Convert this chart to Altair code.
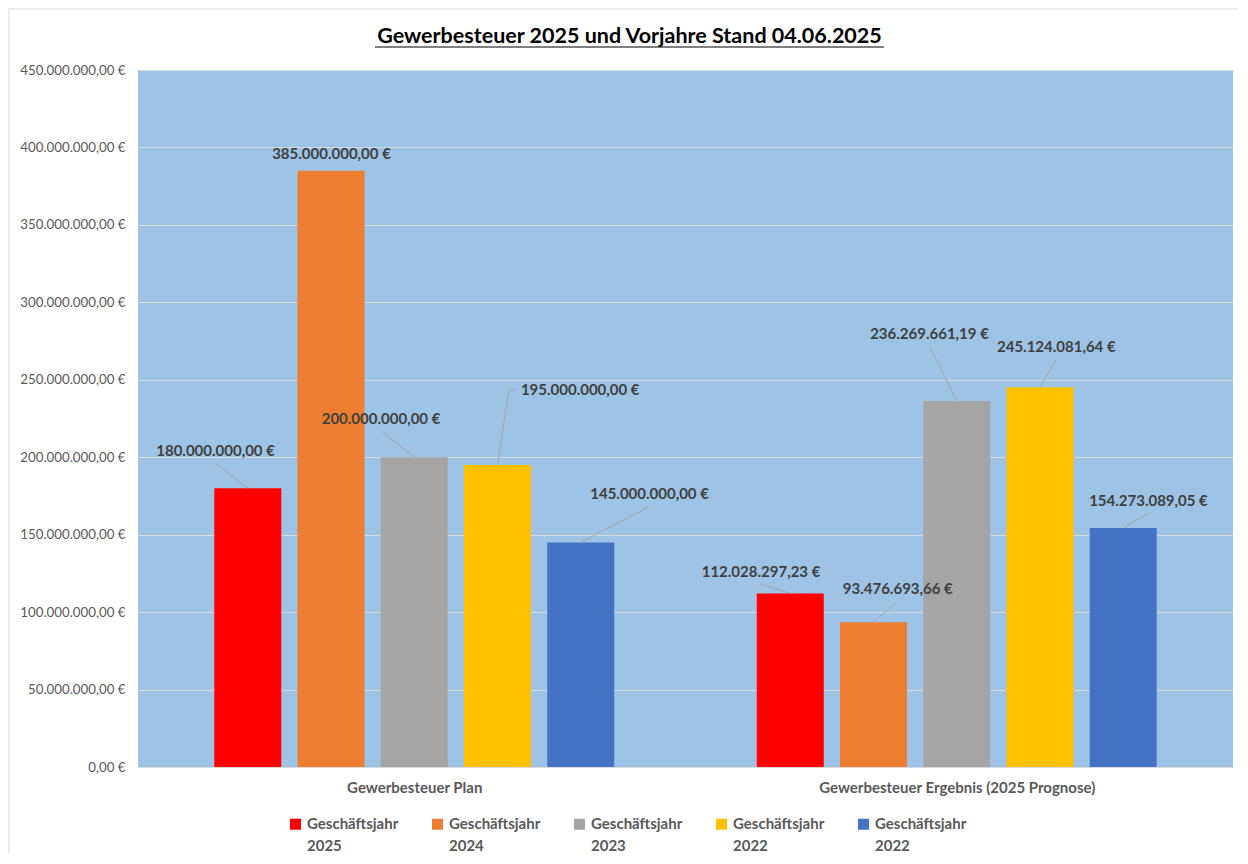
import json
import altair as alt
import pandas as pd

# ---------------- data ----------------
title_text = "Gewerbesteuer 2025 und Vorjahre Stand 04.06.2025"
categories = ["Gewerbesteuer Plan", "Gewerbesteuer Ergebnis (2025 Prognose)"]
series = ["Geschäftsjahr 2025", "Geschäftsjahr 2024", "Geschäftsjahr 2023",
          "Geschäftsjahr 2022", "Geschäftsjahr 2022"]
plan_values = [180000000.00, 385000000.00, 200000000.00, 195000000.00, 145000000.00]
result_values = [112028297.23, 93476693.66, 236269661.19, 245124081.64, 154273089.05]
y_ticks = [0, 50e6, 100e6, 150e6, 200e6, 250e6, 300e6, 350e6, 400e6, 450e6]

# ---------------- style / layout ----------------
colors = ["#FF0000", "#ED7D31", "#A5A5A5", "#FFC000", "#4472C4"]
W, H = 1095, 697
YMAX = 450e6
PX_X = 2.0 / W          # x data units per pixel (domain -0.5..1.5)
PX_Y = YMAX / H         # y data units per pixel
BAR_STEP_PX = 84
BAR_W = 67
FONT = "Lato"

# data-label placement, pixel offsets from the top centre of each bar
label_dx = [-32.5, 0.5, -33.5, 83.5, 69.5, -29.5, 24.5, -27.5, 16.5, 25.5]
label_dy = [-37, -17, -38, -75, -48, -21.5, -33, -67, -40, -27]
# leader line end (relative to bar top centre); None = no leader line
leader_dx = [-32.5, None, -33.5, 11.5, 69.5, -29.5, 24.5, -27.5, 16.5, 25.5]
leader_dy = [-25, None, -26, -75, -36, -9.5, -21, -55, -28, -15]
hook_dx = [None, None, None, 18.5, None, None, None, None, None, None]

rows = []
for g, vals in enumerate([plan_values, result_values]):
    for s, v in enumerate(vals):
        rows.append({"cat": g, "sid": s, "value": v,
                     "pos": g + (s - 2) * BAR_STEP_PX * PX_X})
df = pd.DataFrame(rows)
df["lx"] = df["pos"] + pd.Series(label_dx) * PX_X
df["ly"] = df["value"] - pd.Series(label_dy) * PX_Y

segs = []
for i, r in df.iterrows():
    if leader_dx[i] is None:
        continue
    ex = r["pos"] + leader_dx[i] * PX_X
    ey = r["value"] - leader_dy[i] * PX_Y
    segs.append({"x": r["pos"], "y": r["value"], "x2": ex, "y2": ey})
    if hook_dx[i] is not None:
        segs.append({"x": ex, "y": ey, "x2": r["pos"] + hook_dx[i] * PX_X, "y2": ey})
seg_df = pd.DataFrame(segs)

x_scale = alt.Scale(domain=[-0.5, 1.5], nice=False, zero=False)
y_scale = alt.Scale(domain=[0, YMAX], nice=False)

cat_expr = f"{json.dumps(categories, ensure_ascii=False)}[datum.value]"
leg_expr = f"split({json.dumps(series, ensure_ascii=False)}[datum.value], ' ')"

one = pd.DataFrame({"a": [0]})

bars = alt.Chart(df).mark_bar(size=BAR_W).encode(
    x=alt.X("pos:Q", scale=x_scale, title=None,
            axis=alt.Axis(values=[0, 1], labelExpr=cat_expr, grid=False, ticks=False,
                          domain=True, domainColor="#D9D9D9", labelPadding=13,
                          labelFont=FONT, labelFontSize=15, labelFontWeight="bold",
                          labelColor="#595959", labelFlush=False, labelOverlap=False,
                          labelLimit=600)),
    y=alt.Y("value:Q", scale=y_scale, title=None,
            axis=alt.Axis(values=y_ticks, format="$,.2f", grid=True, gridColor="#D9D9D9",
                          domain=False, ticks=False, labelPadding=13, labelFont=FONT,
                          labelFontSize=13.3, labelColor="#595959")),
    color=alt.Color("sid:N", scale=alt.Scale(domain=[0, 1, 2, 3, 4], range=colors),
                    legend=alt.Legend(title=None, orient="none", legendX=150, legendY=739,
                                      direction="horizontal", columns=5, labelExpr=leg_expr,
                                      symbolType="M-1,0.36H1V2.36H-1Z", symbolSize=121,
                                      symbolStrokeWidth=0, symbolOpacity=1,
                                      labelFont=FONT, labelFontSize=15,
                                      labelFontWeight="bold", labelColor="#595959",
                                      labelBaseline="top",
                                      labelOffset=4, columnPadding=31, padding=0,
                                      gridAlign="all")),
)

labels = alt.Chart(df).mark_text(font=FONT, fontSize=15, fontWeight="bold",
                                 color="#404040", baseline="middle", align="center").encode(
    x=alt.X("lx:Q", scale=x_scale),
    y=alt.Y("ly:Q", scale=y_scale),
    text=alt.Text("value:Q", format="$,.2f"),
)

leaders = alt.Chart(seg_df).mark_rule(color="#A6A6A6", strokeWidth=1).encode(
    x=alt.X("x:Q", scale=x_scale), y=alt.Y("y:Q", scale=y_scale),
    x2="x2:Q", y2="y2:Q",
)

title = alt.Chart(one).mark_text(font=FONT, fontSize=21.5, fontWeight="bold",
                                 color="#000000", align="center", baseline="alphabetic").encode(
    x=alt.value(491.5), y=alt.value(-27), text=alt.value(title_text))
underline = alt.Chart(one).mark_rule(color="#000000", strokeWidth=1).encode(
    x=alt.value(237), x2=alt.value(746), y=alt.value(-23))
border_top = alt.Chart(one).mark_rule(color="#D9D9D9", strokeWidth=1).encode(
    x=alt.value(-129), x2=alt.value(1100), y=alt.value(-61))
border_left = alt.Chart(one).mark_rule(color="#D9D9D9", strokeWidth=1).encode(
    x=alt.value(-129), y=alt.value(-61), y2=alt.value(783))

chart = alt.layer(bars, leaders, labels, title, underline,
                  border_top, border_left).properties(
    width=W, height=H,
    padding={"left": 0, "top": 0, "right": 0, "bottom": 0},
    background="#FFFFFF",
).configure(
    locale={"number": {"decimal": ",", "thousands": ".", "grouping": [3],
                       "currency": ["", " €"]}},
    style={"guide-label": {"lineHeight": 22}},
    view={"stroke": None, "fill": "#9DC3E6"},
)

chart.save("out.html", embed_options={"renderer": "svg", "actions": False})
